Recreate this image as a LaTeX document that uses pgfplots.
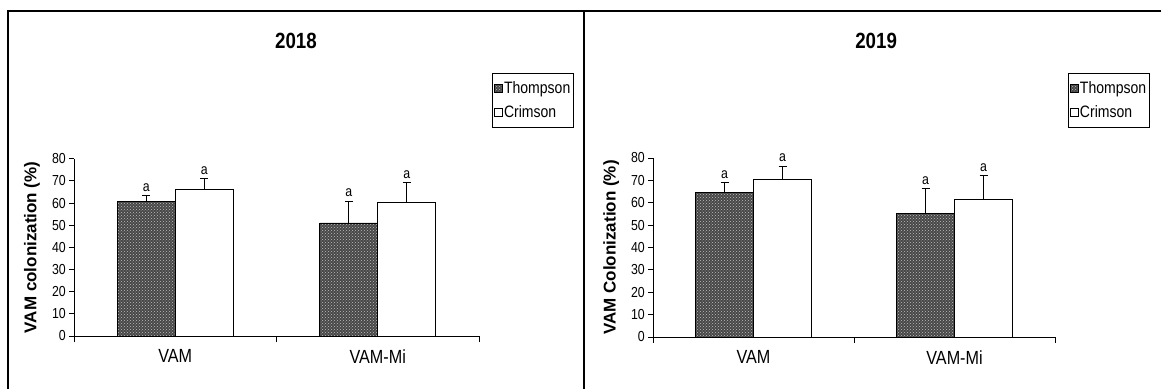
\documentclass[border=0pt]{standalone}
\usepackage{pgfplots}
\pgfplotsset{compat=1.18}
\usepackage{fontspec}
\setmainfont[FakeStretch=0.85]{Liberation Sans}
\newfontfamily\labfont{Liberation Sans}
\usetikzlibrary{patterns}
\newcommand{\fs}[1]{\fontsize{#1}{#1}\selectfont}

\tikzset{alab/.style={font=\fs{14.5}, anchor=south, inner sep=0pt, yshift=4pt}}

\pgfplotsset{
  panel/.style={
    scale only axis,
    ybar=0pt, bar width=58pt,
    xmin=0, xmax=2, ymin=0, ymax=80,
    clip=false,
    axis x line*=bottom, axis y line*=left,
    axis line style={line width=0.9pt, black},
    tick align=outside,
    ytick={0,10,...,80},
    major tick length=5pt,
    minor tick length=6pt,
    tick style={line width=0.9pt, black},
    xtick={0.5,1.5},
    xticklabels={VAM,VAM-Mi},
    major x tick style={draw=none},
    minor xtick={0,1,2},
    /pgf/number format/assume math mode=true,
    yticklabel style={font=\fs{14.5}, inner sep=1pt, xshift=-2pt},
    xticklabel style={font=\fs{19}, yshift=-5pt},
    ylabel style={font=\labfont\bfseries\fs{17}, at={(axis description cs:-0.104,0.5)}, anchor=center},
    title style={font=\bfseries\fs{22}},
    legend style={font=\fs{16.5}, draw=black, line width=1pt, anchor=north west,
       inner xsep=2pt, inner ysep=7pt, row sep=9pt,
       nodes={inner sep=1pt}},
    legend cell align=left,
    legend image code/.code={\draw[##1, line width=0.6pt] (0pt,-4pt) rectangle (8pt,4pt);},
  },
  thompson/.style={draw=black, line width=0.8pt, fill=black!72,
     postaction={pattern=crosshatch dots, pattern color=white!75!black},
     error bars/.cd, y dir=plus, y explicit,
     error bar style={black, line width=0.9pt},
     error mark options={black, line width=0.9pt, mark size=4pt, rotate=90}},
  crimson/.style={draw=black, line width=0.8pt, fill=white,
     error bars/.cd, y dir=plus, y explicit,
     error bar style={black, line width=0.9pt},
     error mark options={black, line width=0.9pt, mark size=4pt, rotate=90}},
}

\begin{document}
\begin{tikzpicture}
\path[use as bounding box] (0pt,0pt) rectangle (1161pt,388pt);
% frame
\draw[line width=1.2pt] (8pt,-5pt) -- (8pt,377pt) -- (1170pt,377pt);
\draw[line width=1.2pt] (584pt,-5pt) -- (584pt,377pt);

% ---------- 2018 ----------
\begin{axis}[panel,
  at={(74pt,52pt)}, anchor=south west,
  width=405pt, height=177.3pt,
  ylabel={VAM colonization (\%)},
  title={2018},
  title style={at={(axis description cs:0.548,1.629)}, anchor=center, yshift=0pt},
  legend style={at={(axis description cs:1.032,1.483)}},
]
\addplot[thompson] coordinates {(0.5,60.8) +- (0,2.4) (1.5,51.0) +- (0,9.8)};
\addplot[crimson] coordinates {(0.5,66.2) +- (0,4.8) (1.5,60.2) +- (0,9.0)};
\legend{Thompson,Crimson}
\node[alab, xshift=-29pt] at (axis cs:0.5,63.2) {a};
\node[alab, xshift=29pt] at (axis cs:0.5,71.0) {a};
\node[alab, xshift=-29pt] at (axis cs:1.5,60.8) {a};
\node[alab, xshift=29pt] at (axis cs:1.5,69.2) {a};
\end{axis}

% ---------- 2019 ----------
\begin{axis}[panel,
  at={(653pt,51pt)}, anchor=south west,
  width=402pt, height=179pt,
  ylabel={VAM Colonization (\%)},
  title={2019},
  title style={at={(axis description cs:0.555,1.62)}, anchor=center, yshift=0pt},
  legend style={at={(axis description cs:1.032,1.475)}},
]
\addplot[thompson] coordinates {(0.5,64.7) +- (0,4.3) (1.5,55.3) +- (0,11.1)};
\addplot[crimson] coordinates {(0.5,70.6) +- (0,5.8) (1.5,61.7) +- (0,10.3)};
\legend{Thompson,Crimson}
\node[alab, xshift=-29pt] at (axis cs:0.5,69.0) {a};
\node[alab, xshift=29pt] at (axis cs:0.5,76.4) {a};
\node[alab, xshift=-29pt] at (axis cs:1.5,66.4) {a};
\node[alab, xshift=29pt] at (axis cs:1.5,72.0) {a};
\end{axis}
\end{tikzpicture}
\end{document}
